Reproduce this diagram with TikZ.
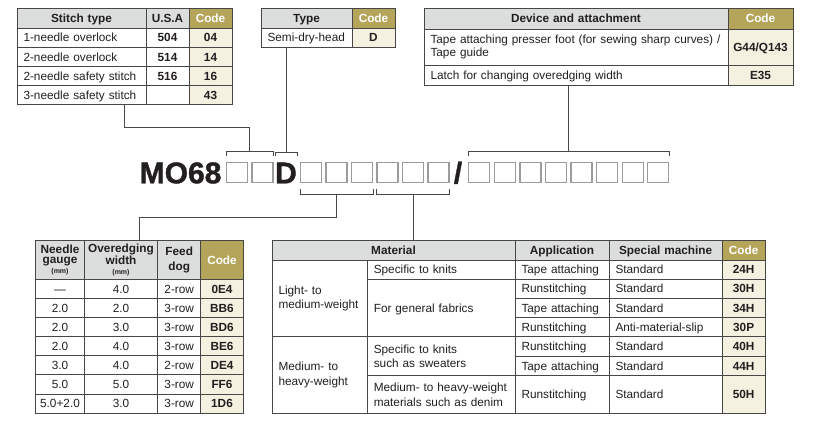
\documentclass[tikz,border=0pt]{standalone}
\usepackage{fontspec}
\setmainfont{Liberation Sans}
\newfontfamily\heavyfont[BoldFeatures={FakeBold=1.2}]{Liberation Sans}
\usetikzlibrary{calc}
\definecolor{hdrgray}{HTML}{DCDDDD}
\definecolor{gold}{HTML}{B5A55A}
\definecolor{cream}{HTML}{F4F1E1}
\definecolor{rule}{HTML}{474747}
\definecolor{boxgray}{HTML}{9C9C9C}
\definecolor{ink}{HTML}{231F20}
\newcommand\fsz{\fontsize{11.8}{13.6}\selectfont}
\newcommand\cellL[7]{\node[cellbase,#6,align=left,inner xsep=6.5pt,text width={#4pt-#2pt-13pt},minimum height={#5pt-#3pt}] (#1) at (#2,#3) {#7};}
\newcommand\cellC[7]{\node[cellbase,#6,align=center,inner xsep=1pt,text width={#4pt-#2pt-2pt},minimum height={#5pt-#3pt}] (#1) at (#2,#3) {#7};}
\newcommand\topbr[3]{\draw[brk] ($(#1.north west)+(0,-6)$) -- ($(#1.north west)+(0,-10.5)$) -- ($(#2.north east)+(0,-10.5)$) -- ($(#2.north east)+(0,-6)$);
  \coordinate (#3) at ($(#1.north west)!0.5!(#2.north east)+(0,-10.5)$);}
\newcommand\botbr[3]{\draw[brk] ($(#1.south west)+(0,6)$) -- ($(#1.south west)+(0,10.5)$) -- ($(#2.south east)+(0,10.5)$) -- ($(#2.south east)+(0,6)$);
  \coordinate (#3) at ($(#1.south west)!0.5!(#2.south east)+(0,10.5)$);}
\tikzset{
  cellbase/.style={draw=rule, line width=0.8pt, anchor=north west, outer sep=0pt, inner ysep=0pt, font=\fsz, text=ink, text height=8.45pt, text depth=0pt},
  ml/.style={text height={}, text depth={}},
  norm/.style={fill=white},
  boldc/.style={fill=white, font=\fsz\bfseries},
  hdr/.style={fill=hdrgray, font=\fsz\bfseries},
  hdrtight/.style={fill=hdrgray, font=\fontsize{11.8}{10.3}\selectfont\bfseries},
  codehdr/.style={fill=gold, text=white, font=\fsz\bfseries},
  codec/.style={fill=cream, font=\fsz\bfseries},
  mbox/.style={draw=boxgray, line width=1.2pt, fill=white, minimum width=21pt, minimum height=20.6pt, inner sep=0pt},
  bigtxt/.style={font=\heavyfont\fontsize{30}{30}\selectfont\bfseries, text=ink, inner sep=0pt},
  brk/.style={draw=rule, line width=0.8pt},
  conn/.style={draw=rule, line width=0.8pt},
}
\begin{document}
\begin{tikzpicture}[x=1pt,y=-1pt]
\useasboundingbox (0,0) rectangle (814,444);
\fill[white] (0,0) rectangle (814,444);

% ---------- Stitch type table ----------
\cellC{sh1}{17}{8}{146}{28}{hdr}{Stitch type}
\cellC{sh2}{146}{8}{189}{28}{hdr}{U.S.A}
\cellC{sh3}{189}{8}{232}{28}{codehdr}{Code}
\cellL{s1a}{17}{28}{146}{47.5}{norm}{1-needle overlock}
\cellC{s1b}{146}{28}{189}{47.5}{boldc}{504}
\cellC{s1c}{189}{28}{232}{47.5}{codec}{04}
\cellL{s2a}{17}{47.5}{146}{66.5}{norm}{2-needle overlock}
\cellC{s2b}{146}{47.5}{189}{66.5}{boldc}{514}
\cellC{s2c}{189}{47.5}{232}{66.5}{codec}{14}
\cellL{s3a}{17}{66.5}{146}{85.5}{norm}{\mbox{2-needle safety stitch}}
\cellC{s3b}{146}{66.5}{189}{85.5}{boldc}{516}
\cellC{s3c}{189}{66.5}{232}{85.5}{codec}{16}
\cellL{s4a}{17}{85.5}{146}{104.3}{norm}{\mbox{3-needle safety stitch}}
\cellC{s4b}{146}{85.5}{189}{104.3}{norm}{}
\cellC{s4c}{189}{85.5}{232}{104.3}{codec}{43}

% ---------- Type table ----------
\cellC{th1}{261}{8}{352}{28}{hdr}{Type}
\cellC{th2}{352}{8}{395}{28}{codehdr}{Code}
\cellL{t1a}{261}{28}{352}{47}{norm,inner xsep=5.5pt}{\mbox{Semi-dry-head}}
\cellC{t1b}{352}{28}{395}{47}{codec}{D}

% ---------- Device table ----------
\cellC{dh1}{424}{8}{728}{29}{hdr}{Device and attachment}
\cellC{dh2}{728}{8}{793}{29}{codehdr}{Code}
\cellL{d1a}{424}{29}{728}{65}{norm,ml,font=\fontsize{11.8}{12.6}\selectfont}{\mbox{Tape attaching presser foot (for sewing sharp curves) /}\\Tape guide}
\cellC{d1b}{728}{29}{793}{65}{codec}{G44/Q143}
\cellL{d2a}{424}{65}{728}{85}{norm}{Latch for changing overedging width}
\cellC{d2b}{728}{65}{793}{85}{codec}{E35}

% ---------- Model code ----------
\node[bigtxt, anchor=base west] (mo) at (139.5,183.3) {MO68};
\foreach \n/\x in {m1/226,m2/251.5,m3/300,m4/325.5,m5/351,m6/376.5,m7/402,m8/427.5}
  \node[mbox] (\n) at (\x+11,172.5) {};
\node[bigtxt, anchor=base] (dN) at (286,183.3) {D};
\node[bigtxt, anchor=base] (sl) at (458,183.3) {/};
\foreach \i in {1,...,8}
  \node[mbox] (q\i) at (468.3+25.57*\i-25.57+11,172.5) {};

\topbr{m1}{m2}{t1}
\topbr{dN}{dN}{t2}
\topbr{q1}{q8}{t3}
\botbr{m3}{m5}{b1}
\botbr{m6}{m8}{b2}

% ---------- Bottom-left table ----------
\cellC{bh1}{35.7}{240.7}{84.3}{279.3}{hdrtight,ml}{Needle\\gauge\\{\fontsize{7}{7}\selectfont(mm)}}
\cellC{bh2}{84.3}{240.7}{157.7}{279.3}{hdrtight,ml}{Overedging\\width\\{\fontsize{7}{7}\selectfont(mm)}}
\cellC{bh3}{157.7}{240.7}{200.7}{279.3}{hdr,ml,font=\fontsize{11.8}{14.3}\selectfont\bfseries}{Feed\\dog}
\cellC{bh4}{200.7}{240.7}{243.3}{279.3}{codehdr}{Code}
\cellC{g1a}{35.7}{279.3}{84.3}{298.4}{norm}{—}
\cellC{g1b}{84.3}{279.3}{157.7}{298.4}{norm}{4.0}
\cellC{g1c}{157.7}{279.3}{200.7}{298.4}{norm}{2-row}
\cellC{g1d}{200.7}{279.3}{243.3}{298.4}{codec}{0E4}
\cellC{g2a}{35.7}{298.4}{84.3}{317.5}{norm}{2.0}
\cellC{g2b}{84.3}{298.4}{157.7}{317.5}{norm}{2.0}
\cellC{g2c}{157.7}{298.4}{200.7}{317.5}{norm}{3-row}
\cellC{g2d}{200.7}{298.4}{243.3}{317.5}{codec}{BB6}
\cellC{g3a}{35.7}{317.5}{84.3}{336.6}{norm}{2.0}
\cellC{g3b}{84.3}{317.5}{157.7}{336.6}{norm}{3.0}
\cellC{g3c}{157.7}{317.5}{200.7}{336.6}{norm}{3-row}
\cellC{g3d}{200.7}{317.5}{243.3}{336.6}{codec}{BD6}
\cellC{g4a}{35.7}{336.6}{84.3}{355.7}{norm}{2.0}
\cellC{g4b}{84.3}{336.6}{157.7}{355.7}{norm}{4.0}
\cellC{g4c}{157.7}{336.6}{200.7}{355.7}{norm}{3-row}
\cellC{g4d}{200.7}{336.6}{243.3}{355.7}{codec}{BE6}
\cellC{g5a}{35.7}{355.7}{84.3}{374.8}{norm}{3.0}
\cellC{g5b}{84.3}{355.7}{157.7}{374.8}{norm}{4.0}
\cellC{g5c}{157.7}{355.7}{200.7}{374.8}{norm}{2-row}
\cellC{g5d}{200.7}{355.7}{243.3}{374.8}{codec}{DE4}
\cellC{g6a}{35.7}{374.8}{84.3}{393.9}{norm}{5.0}
\cellC{g6b}{84.3}{374.8}{157.7}{393.9}{norm}{5.0}
\cellC{g6c}{157.7}{374.8}{200.7}{393.9}{norm}{3-row}
\cellC{g6d}{200.7}{374.8}{243.3}{393.9}{codec}{FF6}
\cellC{g7a}{35.7}{393.9}{84.3}{413}{norm}{5.0+2.0}
\cellC{g7b}{84.3}{393.9}{157.7}{413}{norm}{3.0}
\cellC{g7c}{157.7}{393.9}{200.7}{413}{norm}{3-row}
\cellC{g7d}{200.7}{393.9}{243.3}{413}{codec}{1D6}

% ---------- Bottom-right table ----------
\cellC{mh}{272}{240.7}{515}{260}{hdr}{Material}
\cellC{ah}{515}{240.7}{609}{260}{hdr}{Application}
\cellC{sph}{609}{240.7}{722.3}{260}{hdr}{Special machine}
\cellC{ch}{722.3}{240.7}{765}{260}{codehdr}{Code}
\cellL{lm}{272}{260}{367.3}{336.7}{norm,ml}{Light- to\\medium-weight}
\cellL{hw}{272}{336.7}{367.3}{413.3}{norm,ml,font=\fontsize{11.8}{15}\selectfont}{Medium- to\\heavy-weight}
\cellL{k1}{367.3}{260}{515}{279}{norm}{Specific to knits}
\cellL{gf}{367.3}{279}{515}{336.7}{norm}{For general fabrics}
\cellL{ks}{367.3}{336.7}{515}{375.7}{norm,ml}{Specific to knits\\such as sweaters}
\cellL{dn}{367.3}{375.7}{515}{413.3}{norm,ml,font=\fontsize{11.8}{15}\selectfont}{\mbox{Medium- to heavy-weight}\\materials such as denim}
\cellL{a1}{515}{260}{609}{279}{norm}{Tape attaching}
\cellL{a2}{515}{279}{609}{298.3}{norm}{Runstitching}
\cellL{a3}{515}{298.3}{609}{317.3}{norm}{Tape attaching}
\cellL{a4}{515}{317.3}{609}{336.7}{norm}{Runstitching}
\cellL{a5}{515}{336.7}{609}{356}{norm}{Runstitching}
\cellL{a6}{515}{356}{609}{375.7}{norm}{Tape attaching}
\cellL{a7}{515}{375.7}{609}{413.3}{norm}{Runstitching}
\cellL{p1}{609}{260}{722.3}{279}{norm}{Standard}
\cellL{p2}{609}{279}{722.3}{298.3}{norm}{Standard}
\cellL{p3}{609}{298.3}{722.3}{317.3}{norm}{Standard}
\cellL{p4}{609}{317.3}{722.3}{336.7}{norm}{\mbox{Anti-material-slip}}
\cellL{p5}{609}{336.7}{722.3}{356}{norm}{Standard}
\cellL{p6}{609}{356}{722.3}{375.7}{norm}{Standard}
\cellL{p7}{609}{375.7}{722.3}{413.3}{norm}{Standard}
\cellC{c1}{722.3}{260}{765}{279}{codec}{24H}
\cellC{c2}{722.3}{279}{765}{298.3}{codec}{30H}
\cellC{c3}{722.3}{298.3}{765}{317.3}{codec}{34H}
\cellC{c4}{722.3}{317.3}{765}{336.7}{codec}{30P}
\cellC{c5}{722.3}{336.7}{765}{356}{codec}{40H}
\cellC{c6}{722.3}{356}{765}{375.7}{codec}{44H}
\cellC{c7}{722.3}{375.7}{765}{413.3}{codec}{50H}

% ---------- Connectors ----------
\coordinate (sBot) at ([xshift=107.3pt]s4a.south west);
\draw[conn] (sBot) -- ++(0,23.5) -| (t1);
\draw[conn] (t2 |- t1a.south) -- (t2);
\draw[conn] (t3 |- d2a.south) -- (t3);
\coordinate (blTop) at ([xshift=55.2pt]bh2.north west);
\draw[conn] (b1) -- ++(0,23.4) -| (blTop);
\draw[conn] (b2) -- (b2 |- mh.north);
\end{tikzpicture}
\end{document}
